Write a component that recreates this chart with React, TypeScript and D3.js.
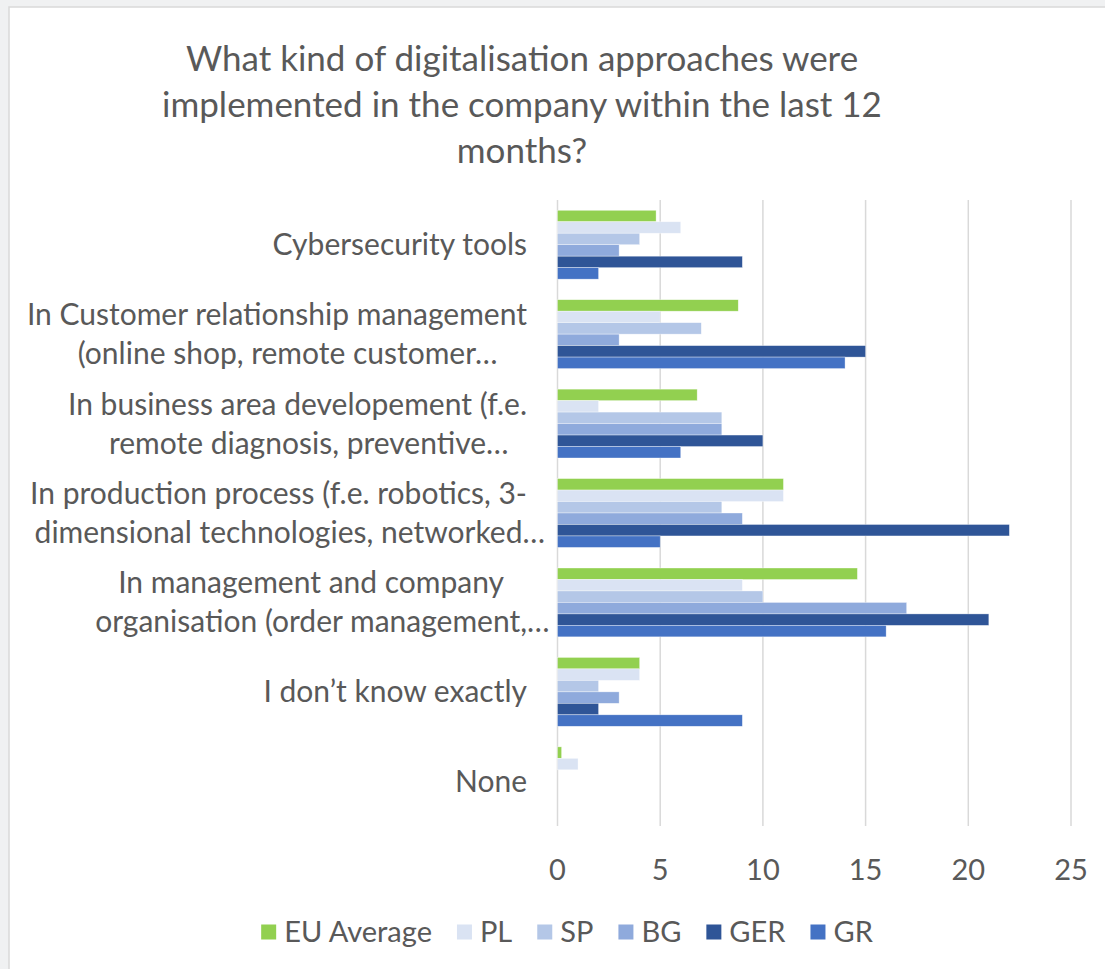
import React, { useEffect, useRef } from "react";
import * as d3 from "d3";

const titleLines = [
  "What kind of digitalisation approaches were",
  "implemented in the company within the last 12",
  "months?",
];

const categories = [
  "Cybersecurity tools",
  "In Customer relationship management",
  "In business area developement",
  "In production process",
  "In management and company organisation",
  "I don’t know exactly",
  "None",
];

const categoryLabelLines = [
  ["Cybersecurity tools"],
  ["In Customer relationship management", "(online shop, remote customer…"],
  ["In business area developement (f.e.", "remote diagnosis, preventive…"],
  ["In production process (f.e. robotics, 3-", "dimensional technologies, networked…"],
  ["In management and company", "organisation (order management,…"],
  ["I don’t know exactly"],
  ["None"],
];

const seriesNames = ["EU Average", "PL", "SP", "BG", "GER", "GR"];
const seriesColors = ["#92D050", "#DAE3F3", "#B4C7E7", "#8FAADC", "#2F5597", "#4472C4"];

const euAverage = [4.8, 8.8, 6.8, 11, 14.6, 4, 0.2];
const pl = [6, 5, 2, 11, 9, 4, 1];
const sp = [4, 7, 8, 8, 10, 2, 0];
const bg = [3, 3, 8, 9, 17, 3, 0];
const ger = [9, 15, 10, 22, 21, 2, 0];
const gr = [2, 14, 6, 5, 16, 9, 0];

const seriesValues = [euAverage, pl, sp, bg, ger, gr];
const xTicks = [0, 5, 10, 15, 20, 25];

const FONT = "Lato, 'Open Sans', sans-serif";
const TEXT = "#595959";

export default function App() {
  const ref = useRef<SVGSVGElement>(null);

  useEffect(() => {
    const svg = d3.select(ref.current);
    svg.selectAll("*").remove();

    const W = 1105, H = 969;
    svg.append("rect").attr("x", 0).attr("y", 0).attr("width", W).attr("height", H).attr("fill", "#f0f1f2");
    svg.append("rect").attr("x", 9).attr("y", 7).attr("width", W - 8).attr("height", H - 6)
      .attr("fill", "#ffffff").attr("stroke", "#d9d9d9").attr("stroke-width", 1.5);

    // title
    const title = svg.append("g");
    titleLines.forEach((t, i) => {
      title.append("text").attr("x", 522).attr("y", 71 + i * 46)
        .attr("text-anchor", "middle").attr("font-family", FONT).attr("font-size", 35)
        .attr("fill", TEXT).text(t);
    });

    const x = d3.scaleLinear().domain([0, 25]).range([557.5, 1071]);
    const y = d3.scaleBand<string>().domain(categories).range([200, 826]).paddingInner(0.23).paddingOuter(0.115);
    const ys = d3.scaleBand<string>().domain(seriesNames).range([0, y.bandwidth()]);

    // gridlines
    svg.append("g").selectAll("line").data(xTicks).join("line")
      .attr("x1", (d) => x(d)).attr("x2", (d) => x(d))
      .attr("y1", 200).attr("y2", 826)
      .attr("stroke", "#d9d9d9").attr("stroke-width", 1.5);

    // bars
    const bars = svg.append("g");
    seriesNames.forEach((s, si) => {
      bars.append("g").selectAll("rect").data(seriesValues[si]).join("rect")
        .attr("x", x(0))
        .attr("y", (_, i) => (y(categories[i]) as number) + (ys(s) as number))
        .attr("width", (d) => x(d) - x(0))
        .attr("height", ys.bandwidth())
        .attr("fill", seriesColors[si])
        .attr("stroke", "#ffffff").attr("stroke-opacity", 0.6).attr("stroke-width", 0.6);
    });

    // x tick labels
    svg.append("g").selectAll("text").data(xTicks).join("text")
      .attr("x", (d) => x(d)).attr("y", 880)
      .attr("text-anchor", "middle").attr("font-family", FONT).attr("font-size", 29)
      .attr("fill", TEXT).text((d) => String(d));

    // category labels (lines centered within a right-aligned block)
    const labels = svg.append("g");
    const rightEdge = 527;
    const lineGap = 39;
    const LFS = 30;
    categoryLabelLines.forEach((lines, ci) => {
      const cy = (y(categories[ci]) as number) + y.bandwidth() / 2;
      const g = labels.append("g");
      const widths: number[] = [];
      lines.forEach((ln) => {
        const core = ln.endsWith("…") ? ln.slice(0, -1) : ln;
        const tmp = g.append("text").attr("font-family", FONT).attr("font-size", LFS).text(core);
        widths.push((tmp.node() as SVGTextElement).getComputedTextLength());
        tmp.remove();
      });
      const blockW = Math.max(...widths);
      const center = rightEdge - blockW / 2;
      lines.forEach((ln, li) => {
        const ly = cy + (li - (lines.length - 1) / 2) * lineGap;
        g.append("text").attr("x", center - widths[li] / 2).attr("y", ly).attr("dy", "0.35em")
          .attr("font-family", FONT).attr("font-size", LFS).attr("fill", TEXT).text(ln);
      });
    });

    // legend
    const legend = svg.append("g");
    const sq = 15, gapText = 8, gapItem = 25;
    const textWidths = seriesNames.map((s) => {
      const tmp = legend.append("text").attr("font-family", FONT).attr("font-size", 29).text(s);
      const w = (tmp.node() as SVGTextElement).getComputedTextLength();
      tmp.remove();
      return w;
    });
    const total = textWidths.reduce((a, w) => a + sq + gapText + w, 0) + gapItem * (seriesNames.length - 1);
    let lx = 567 - total / 2;
    const ly = 932;
    seriesNames.forEach((s, i) => {
      legend.append("rect").attr("x", lx).attr("y", ly - sq / 2).attr("width", sq).attr("height", sq).attr("fill", seriesColors[i]);
      legend.append("text").attr("x", lx + sq + gapText).attr("y", ly).attr("dy", "0.35em")
        .attr("font-family", FONT).attr("font-size", 29).attr("fill", TEXT).text(s);
      lx += sq + gapText + textWidths[i] + gapItem;
    });
  }, []);

  return (
    <svg ref={ref} width={1105} height={969}
      style={{ position: "absolute", left: 0, top: 0, display: "block" }} />
  );
}
